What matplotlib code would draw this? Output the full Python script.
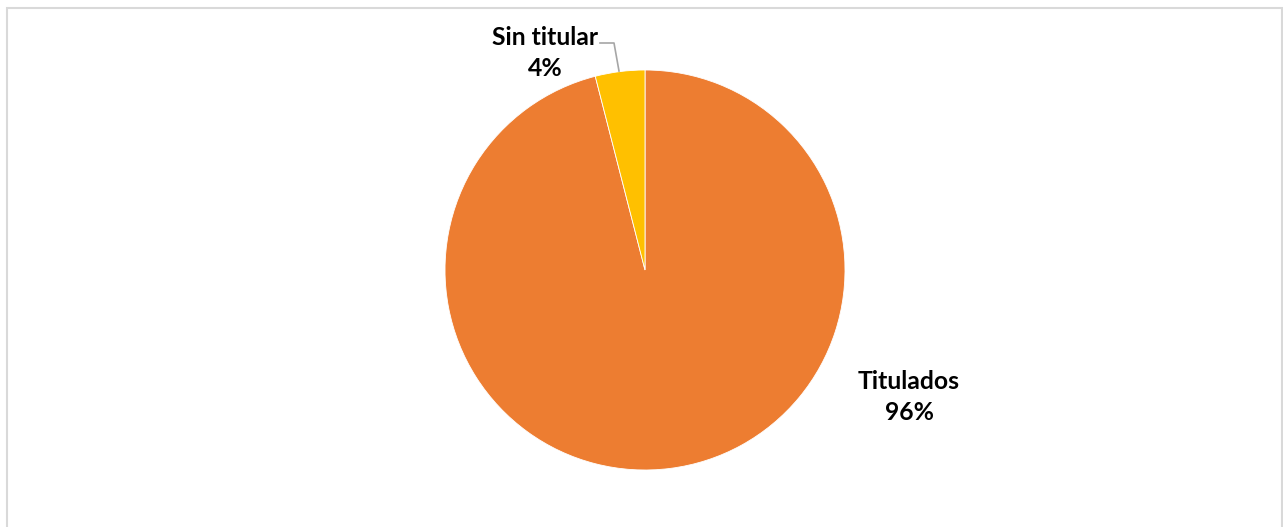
import matplotlib
matplotlib.use("Agg")
import matplotlib.pyplot as plt
from matplotlib.patches import Rectangle

categories = ["Titulados", "Sin titular"]
values = [96, 4]
colors = ["#ED7D31", "#FFC000"]

fig = plt.figure(figsize=(12.83, 5.27), dpi=100)
fig.patch.set_facecolor("white")
fig.add_artist(Rectangle((7/1283, -0.05), (1282-7)/1283, 1.05 - 8/527,
                         transform=fig.transFigure, fill=False,
                         edgecolor="#D9D9D9", linewidth=1.5))

ax = fig.add_axes([445/1283, (527-470)/527, 400/1283, 400/527])
ax.pie(values, colors=colors, startangle=90, counterclock=False,
       wedgeprops=dict(linewidth=0.6, edgecolor="white"))
ax.set_xlim(-1, 1)
ax.set_ylim(-1, 1)
ax.set_aspect("equal")
ax.axis("off")

font = dict(family=["Lato", "DejaVu Sans"], fontweight="bold", fontsize=17.8, color="#000000")
ax.text(-0.5, 1.085, f"{categories[1]}\n{values[1]}%", ha="center", va="center",
        linespacing=1.45, clip_on=False, **font)
ax.text(1.32, -0.635, f"{categories[0]}\n{values[0]}%", ha="center", va="center",
        linespacing=1.45, clip_on=False, **font)
ax.plot([-0.225, -0.155, -0.13], [1.135, 1.135, 0.995], color="#A6A6A6",
        linewidth=1.2, clip_on=False)

fig.savefig("out.png", dpi=100)
